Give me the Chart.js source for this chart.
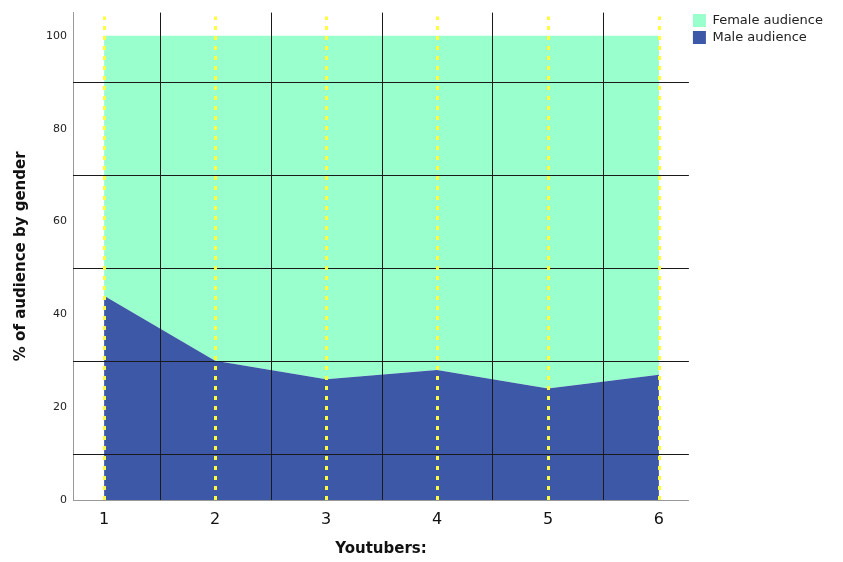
<!DOCTYPE html>
<html>
<head>
<meta charset="utf-8">
<script src="https://cdn.jsdelivr.net/npm/chart.js@4/dist/chart.umd.min.js"></script>
<style>
  html, body { margin: 0; padding: 0; background: #fff; }
  #wrap { width: 843px; height: 562px; }
</style>
</head>
<body>
<div id="wrap"><canvas id="audienceChart"></canvas></div>
<script>
// values
const youtubers = [1, 2, 3, 4, 5, 6];
const maleAudience = [44, 30, 26, 28, 24, 27];
const femaleAudience = [56, 70, 74, 72, 76, 73];
const yTicks = [0, 20, 40, 60, 80, 100];
const yGridLines = [10, 30, 50, 70, 90];
const xGridLines = [1.5, 2.5, 3.5, 4.5, 5.5];

const FONT = "'DejaVu Sans', sans-serif";

// black grid + yellow dotted guides sit on top of the areas
const overlayLines = {
  id: "overlayLines",
  afterDatasetsDraw(chart) {
    const ctx = chart.ctx;
    const area = chart.chartArea;
    const xs = chart.scales.x, ys = chart.scales.y;
    ctx.save();
    ctx.lineWidth = 1;
    ctx.strokeStyle = "#1a1a1a";
    yGridLines.forEach(v => {
      const py = Math.round(ys.getPixelForValue(v)) + 0.5;
      ctx.beginPath(); ctx.moveTo(area.left, py); ctx.lineTo(area.right, py); ctx.stroke();
    });
    xGridLines.forEach(v => {
      const px = Math.round(xs.getPixelForValue(v)) + 0.5;
      ctx.beginPath(); ctx.moveTo(px, area.top); ctx.lineTo(px, area.bottom); ctx.stroke();
    });
    ctx.strokeStyle = "#ffff3c";
    ctx.lineWidth = 3;
    ctx.setLineDash([4, 6]);
    youtubers.forEach(v => {
      const px = Math.round(xs.getPixelForValue(v)) + 0.5;
      ctx.beginPath(); ctx.moveTo(px, area.bottom); ctx.lineTo(px, area.top + 4); ctx.stroke();
    });
    ctx.restore();
  }
};

const ctx = document.getElementById("audienceChart").getContext("2d");

new Chart(ctx, {
  type: "line",
  data: {
    datasets: [
      {
        label: "Male audience",
        data: youtubers.map((x, i) => ({ x: x, y: maleAudience[i] })),
        backgroundColor: "#3d58a6",
        borderColor: "#3d58a6",
        borderWidth: 0,
        pointRadius: 0,
        fill: "origin",
        order: 1
      },
      {
        label: "Female audience",
        data: youtubers.map((x, i) => ({ x: x, y: femaleAudience[i] })),
        backgroundColor: "#99ffcc",
        borderColor: "#99ffcc",
        borderWidth: 0,
        pointRadius: 0,
        fill: "-1",
        order: 2
      }
    ]
  },
  options: {
    responsive: true,
    maintainAspectRatio: false,
    animation: false,
    layout: { padding: { top: 10, left: 0, right: 10, bottom: 0 } },
    plugins: {
      tooltip: { enabled: false },
      legend: {
        position: "right",
        align: "start",
        reverse: true,
        labels: {
          boxWidth: 13,
          boxHeight: 13,
          padding: 4,
          color: "#222",
          font: { family: FONT, size: 13 }
        }
      }
    },
    scales: {
      x: {
        type: "linear",
        min: 0.72,
        max: 6.27,
        afterBuildTicks: s => { s.ticks = youtubers.map(v => ({ value: v })); },
        afterFit: s => { s.height = 62; },
        grid: { display: false, drawTicks: false },
        border: { display: true, color: "#999", width: 1 },
        ticks: { color: "#111", padding: 10, font: { family: FONT, size: 16 } },
        title: {
          display: true,
          text: "Youtubers:",
          color: "#111",
          padding: { top: 6, bottom: 4 },
          font: { family: FONT, size: 15, weight: "bold" }
        }
      },
      y: {
        stacked: true,
        min: 0,
        max: 105,
        afterBuildTicks: s => { s.ticks = yTicks.map(v => ({ value: v })); },
        afterFit: s => { s.width = 73; },
        grid: { display: false, drawTicks: false },
        border: { display: true, color: "#999", width: 1 },
        ticks: { color: "#222", padding: 6, font: { family: FONT, size: 11 } },
        title: {
          display: true,
          text: "% of audience by gender",
          color: "#111",
          padding: { top: 12, bottom: 4 },
          font: { family: FONT, size: 15, weight: "bold" }
        }
      }
    }
  },
  plugins: [overlayLines]
});
</script>
</body>
</html>
